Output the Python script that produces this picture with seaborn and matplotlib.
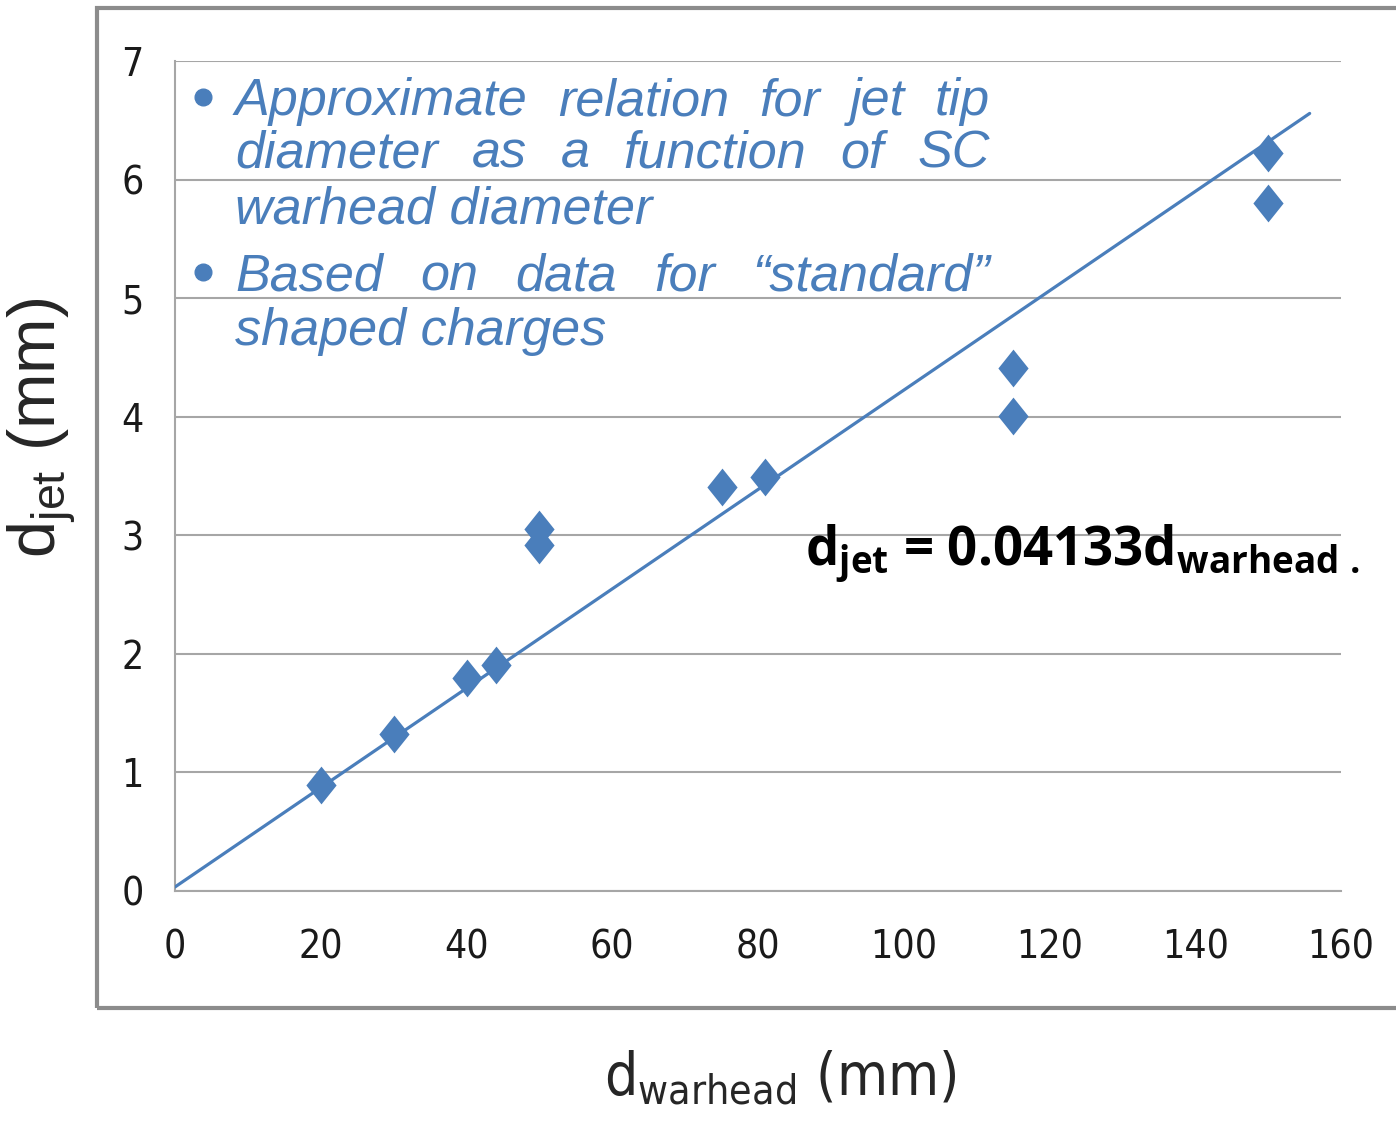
import numpy as np
import pandas as pd
import matplotlib
matplotlib.use("Agg")
import matplotlib.pyplot as plt
import seaborn as sns
from matplotlib.patches import Rectangle
from matplotlib.lines import Line2D

# values
d_warhead = [20, 30, 40, 44, 50, 50, 75, 81, 115, 115, 150, 150]
d_jet = [0.89, 1.32, 1.80, 1.91, 3.05, 2.92, 3.41, 3.49, 4.41, 4.01, 6.22, 5.80]
fit_slope = 0.0419
fit_intercept = 0.034
fit_x = [0, 155.7]
x_ticks = [0, 20, 40, 60, 80, 100, 120, 140, 160]
y_ticks = [0, 1, 2, 3, 4, 5, 6, 7]

note_lines = [
    ("Approximate relation for jet tip", True, True),
    ("diameter as a function of SC", False, True),
    ("warhead diameter", False, False),
    ("Based on data for \u201cstandard\u201d", True, True),
    ("shaped charges", False, False),
]
note_baselines = [115, 168, 223, 290, 345]

pts = pd.DataFrame({"d_warhead": d_warhead, "d_jet": d_jet})
fit = pd.DataFrame({"d_warhead": fit_x,
                    "d_jet": [fit_intercept + fit_slope * x for x in fit_x]})

sns.set_style("white")
plt.rcParams["font.family"] = ["DejaVu Sans"]
plt.rcParams["font.stretch"] = "condensed"
plt.rcParams["mathtext.default"] = "regular"

W, H = 1396, 1122
blue = "#4A7EBB"
grey = "#A6A6A6"

fig = plt.figure(figsize=(W / 100, H / 100), dpi=100)
ax = fig.add_axes([175 / W, 1 - 891 / H, (1341 - 175) / W, (891 - 61) / H])

sns.lineplot(data=fit, x="d_warhead", y="d_jet", ax=ax, color=blue, lw=2.3, zorder=3)
diamond = np.array([[0, 1], [0.8, 0], [0, -1], [-0.8, 0], [0, 1]])
sns.scatterplot(data=pts, x="d_warhead", y="d_jet", ax=ax, marker=diamond, s=740,
                color=blue, edgecolor=blue, linewidth=0, zorder=4)

ax.set_xlim(0, 160)
ax.set_ylim(0, 7)
ax.set_xticks(x_ticks)
ax.set_yticks(y_ticks)
ax.set_xlabel("")
ax.set_ylabel("")
ax.yaxis.grid(True, color=grey, lw=1.5)
ax.xaxis.grid(False)
ax.set_axisbelow(True)
for s in ["top", "right"]:
    ax.spines[s].set_visible(False)
for s in ["left", "bottom"]:
    ax.spines[s].set_color(grey)
    ax.spines[s].set_linewidth(1.5)
ax.tick_params(axis="y", direction="out", length=9.5, width=1.5, color=grey,
               pad=13, labelsize=28, labelcolor="#1a1a1a")
ax.tick_params(axis="x", direction="out", length=12, width=1.5, color=grey,
               pad=15, labelsize=28, labelcolor="#1a1a1a")

# axis titles
fig.text(780 / W, 1 - 1078 / H, r"$\mathregular{d_{warhead}}$ (mm)", fontsize=42,
         ha="center", va="center")
fig.text(42 / W, 1 - 428 / H, r"$\mathregular{d_{jet}}$ (mm)", fontsize=48,
         family=["Liberation Sans", "DejaVu Sans"], fontstretch="normal",
         ha="center", va="center", rotation=90)

# outer frame
fig.add_artist(Rectangle((97 / W, 1 - 1008 / H), 1.0, 1000 / H, transform=fig.transFigure,
                         fill=False, ec="#8C8C8C", lw=3))

# equation
fig.text(805 / W, 1 - 565 / H, r"$\mathregular{d_{jet}}$ = 0.04133$\mathregular{d_{warhead\ .}}$",
         fontsize=38, fontweight="bold", family=["Open Sans", "DejaVu Sans"],
         fontstretch="normal", va="baseline", ha="left", color="black")

# bullet notes, justified
x0, x1 = 235, 990
note_kw = dict(fontsize=37.5, style="italic", color=blue, va="baseline",
               family=["Liberation Sans", "DejaVu Sans"], fontstretch="normal")
justify = []
for (line, bullet, just), yb in zip(note_lines, note_baselines):
    if bullet:
        fig.add_artist(Line2D([203 / W], [1 - (yb - 18) / H], marker="o", ms=12,
                              color=blue, transform=fig.transFigure))
    if just:
        words = [fig.text(x0 / W, 1 - yb / H, w, **note_kw) for w in line.split()]
        justify.append(words)
    else:
        fig.text(x0 / W, 1 - yb / H, line, **note_kw)

fig.canvas.draw()
r = fig.canvas.get_renderer()
for words in justify:
    widths = [t.get_window_extent(r).width for t in words]
    gap = (x1 - x0 - sum(widths)) / (len(words) - 1)
    x = x0
    for t, wd in zip(words, widths):
        t.set_x(x / W)
        x += wd + gap

fig.savefig("out.png", dpi=100)
